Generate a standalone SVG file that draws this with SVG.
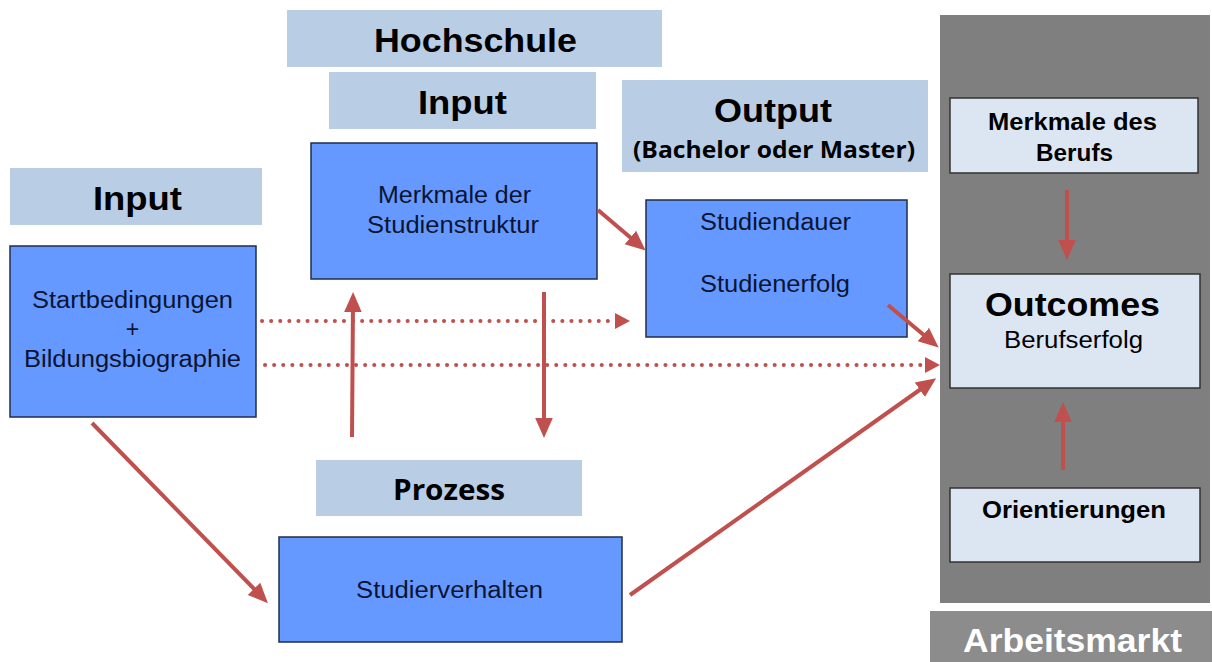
<svg xmlns="http://www.w3.org/2000/svg" width="1212" height="662" viewBox="0 0 1212 662">
<style>
.hdr{fill:#b9cde5}
.box{fill:#6699ff;stroke:#1f2d4d;stroke-width:1.5}
.lbox{fill:#dce6f2;stroke:#333;stroke-width:1.5}
.h{font-family:"Liberation Sans",Arial,sans-serif;font-weight:bold;font-size:34px;fill:#000;text-anchor:middle}
.c{font-family:"Open Sans","Liberation Sans",sans-serif;font-weight:bold;fill:#000;text-anchor:middle}
.t{font-family:"Liberation Sans",Arial,sans-serif;font-size:23px;fill:#0a1433;text-anchor:middle}
.b{font-family:"Liberation Sans",Arial,sans-serif;font-weight:bold;font-size:23px;fill:#000;text-anchor:middle}
.arr{stroke:#c0504d;stroke-width:4;fill:none}
.dot{stroke:#c0504d;stroke-width:4;fill:none;stroke-dasharray:0.1 9;stroke-linecap:round}
</style>
<defs>
<marker id="ah" markerWidth="5" markerHeight="5" refX="2.5" refY="2.5" orient="auto" markerUnits="strokeWidth">
<path d="M0,0.3 L5,2.5 L0,4.7 Z" fill="#c0504d"/>
</marker>
</defs>
<g id="arbeitsmarkt-column">
<rect x="940" y="15" width="270" height="588" fill="#7f7f7f"/>
<rect x="930" y="611" width="282" height="51" fill="#8c8c8c"/>
<text x="1072.5" y="652" class="h" style="fill:#fff" textLength="219" lengthAdjust="spacingAndGlyphs">Arbeitsmarkt</text>
</g>
<g id="hdr-input-left"><rect x="10" y="168" width="252" height="57" class="hdr"/><text x="137.5" y="210" class="h" textLength="89" lengthAdjust="spacingAndGlyphs">Input</text></g>
<g id="hdr-hochschule"><rect x="287" y="10" width="375" height="57" class="hdr"/><text x="475.5" y="52" class="h" textLength="203" lengthAdjust="spacingAndGlyphs">Hochschule</text></g>
<g id="hdr-input-mid"><rect x="329" y="72" width="267" height="57" class="hdr"/><text x="462.5" y="114" class="h" textLength="89" lengthAdjust="spacingAndGlyphs">Input</text></g>
<g id="hdr-output"><rect x="622" y="80" width="306" height="92" class="hdr"/><text x="773" y="122" class="h" textLength="118" lengthAdjust="spacingAndGlyphs">Output</text><text x="774" y="158" class="c" font-size="23" textLength="282" lengthAdjust="spacingAndGlyphs">(Bachelor oder Master)</text></g>
<g id="hdr-prozess"><rect x="316" y="460" width="266" height="56" class="hdr"/><text x="449" y="500" class="c" font-size="29" textLength="112" lengthAdjust="spacingAndGlyphs">Prozess</text></g>
<g id="node-start"><rect x="10" y="246" width="246" height="171" class="box"/>
<text x="132.5" y="308" class="t" textLength="201" lengthAdjust="spacingAndGlyphs">Startbedingungen</text><text x="132.5" y="337" class="t">+</text><text x="132.5" y="367" class="t" textLength="217" lengthAdjust="spacingAndGlyphs">Bildungsbiographie</text></g>
<g id="node-struktur"><rect x="311" y="143" width="286" height="136" class="box"/>
<text x="454.5" y="203" class="t" textLength="153" lengthAdjust="spacingAndGlyphs">Merkmale der</text><text x="453" y="233" class="t" textLength="172" lengthAdjust="spacingAndGlyphs">Studienstruktur</text></g>
<g id="node-output"><rect x="646" y="200" width="261" height="137" class="box"/>
<text x="775.5" y="230" class="t" textLength="151" lengthAdjust="spacingAndGlyphs">Studiendauer</text><text x="775" y="292" class="t" textLength="150" lengthAdjust="spacingAndGlyphs">Studienerfolg</text></g>
<g id="node-verhalten"><rect x="279" y="537" width="343" height="105" class="box"/>
<text x="449.5" y="598" class="t" textLength="187" lengthAdjust="spacingAndGlyphs">Studierverhalten</text></g>
<g id="node-beruf"><rect x="950" y="98" width="248" height="75" class="lbox"/>
<text x="1072.5" y="130" class="b" textLength="169" lengthAdjust="spacingAndGlyphs">Merkmale des</text><text x="1074.5" y="161" class="b" textLength="77" lengthAdjust="spacingAndGlyphs">Berufs</text></g>
<g id="node-outcomes"><rect x="950" y="274" width="250" height="114" class="lbox"/>
<text x="1072.5" y="316" class="h" font-size="33" textLength="175" lengthAdjust="spacingAndGlyphs">Outcomes</text><text x="1073.5" y="348" class="t" style="fill:#000" font-size="22" textLength="139" lengthAdjust="spacingAndGlyphs">Berufserfolg</text></g>
<g id="node-orient"><rect x="950" y="488" width="250" height="74" class="lbox"/>
<text x="1074" y="518" class="b" textLength="184" lengthAdjust="spacingAndGlyphs">Orientierungen</text></g>
<g id="connectors">
<line x1="262" y1="321" x2="616" y2="321" class="dot"/>
<path d="M615,313 L630,321 L615,329 Z" fill="#c0504d"/>
<line x1="265" y1="365" x2="927" y2="365" class="dot"/>
<path d="M925,357 L940,365 L925,373 Z" fill="#c0504d"/>
<line x1="352" y1="437" x2="353" y2="302" class="arr" marker-end="url(#ah)"/>
<line x1="544" y1="292" x2="544" y2="428" class="arr" marker-end="url(#ah)"/>
<line x1="598" y1="210" x2="638" y2="244" class="arr" marker-end="url(#ah)"/>
<line x1="888" y1="305" x2="931" y2="341" class="arr" marker-end="url(#ah)"/>
<line x1="630" y1="595" x2="928" y2="384" class="arr" marker-end="url(#ah)"/>
<line x1="92" y1="423" x2="261" y2="596" class="arr" marker-end="url(#ah)"/>
<line x1="1067" y1="190" x2="1067" y2="250" class="arr" marker-end="url(#ah)"/>
<line x1="1063" y1="470" x2="1063" y2="412" class="arr" marker-end="url(#ah)"/>
</g>
</svg>
